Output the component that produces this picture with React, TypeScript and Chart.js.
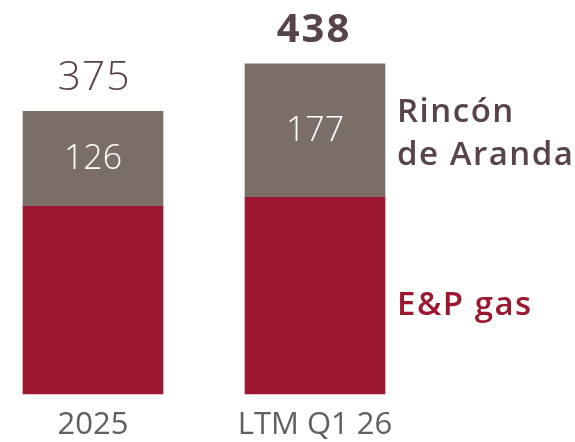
import React, { useEffect, useRef } from "react";
import { Chart, registerables } from "chart.js";

Chart.register(...registerables);

const categories = ["2025", "LTM Q1 26"];
const epGas = [249, 261];
const rincon = [126, 177];
const seriesNames = ["E&P gas", "Rincón de Aranda"];

const RED = "#9c1730";
const GRAY = "#7b6e67";
const DARK = "#574448";
const AXIS = "#606060";
const FONT = "'Open Sans', 'Noto Sans', sans-serif";

const labelsPlugin = {
  id: "labelsPlugin",
  afterDatasetsDraw(chart: any) {
    const ctx = chart.ctx;
    const redMeta = chart.getDatasetMeta(0);
    const grayMeta = chart.getDatasetMeta(1);
    ctx.save();
    ctx.textAlign = "center";
    ctx.textBaseline = "middle";
    grayMeta.data.forEach((bar: any, i: number) => {
      const top = bar.y;
      const base = bar.base;
      ctx.letterSpacing = "0px";
      ctx.fillStyle = "#ffffff";
      ctx.font = `300 34px ${FONT}`;
      ctx.fillText(String(rincon[i]), bar.x, (top + base) / 2 + 1);
      const total = epGas[i] + rincon[i];
      const last = i === grayMeta.data.length - 1;
      ctx.fillStyle = DARK;
      if (last) {
        ctx.letterSpacing = "2px";
        ctx.font = `bold 40px ${FONT}`;
        ctx.fillText(String(total), bar.x - 1, top - 33);
      } else {
        ctx.letterSpacing = "1px";
        ctx.font = `300 41px ${FONT}`;
        ctx.fillText(String(total), bar.x + 1, top - 33);
      }
    });
    const li = grayMeta.data.length - 1;
    const gBar: any = grayMeta.data[li];
    const rBar: any = redMeta.data[li];
    const x = gBar.x + gBar.width / 2 + 12;
    ctx.textAlign = "left";
    ctx.textBaseline = "alphabetic";
    ctx.letterSpacing = "1.5px";
    ctx.font = `600 33px ${FONT}`;
    ctx.fillStyle = DARK;
    const gc = (gBar.y + gBar.base) / 2;
    const words = seriesNames[1].split(" ");
    ctx.fillText(words[0], x, gc - 8.5);
    ctx.fillText(words.slice(1).join(" "), x, gc + 34.5);
    ctx.fillStyle = RED;
    const rc = (rBar.y + rBar.base) / 2;
    ctx.fillText(seriesNames[0], x, rc + 19.5);
    ctx.restore();
  },
};

export default function App() {
  const ref = useRef<HTMLCanvasElement>(null);
  useEffect(() => {
    if (!ref.current) return;
    const chart = new Chart(ref.current, {
      type: "bar",
      data: {
        labels: categories,
        datasets: [
          {
            label: seriesNames[0],
            data: epGas,
            backgroundColor: RED,
            barThickness: 140,
            clip: false as any,
          },
          {
            label: seriesNames[1],
            data: rincon,
            backgroundColor: GRAY,
            barThickness: 140,
            clip: false as any,
          },
        ],
      },
      options: {
        animation: false,
        responsive: false,
        devicePixelRatio: 1,
        layout: { padding: { left: 93, right: 260, top: 17, bottom: 0 } },
        plugins: {
          legend: { display: false },
          tooltip: { enabled: false },
          title: { display: false },
        },
        scales: {
          x: {
            stacked: true,
            offset: false,
            grid: { display: false, drawTicks: false, tickLength: 0 },
            border: { display: false },
            afterFit: (scale: any) => {
              scale.height = 48;
            },
            ticks: {
              color: AXIS,
              padding: 13,
              font: { family: FONT, size: 31, weight: 400 as any, lineHeight: 1.2 },
              maxRotation: 0,
              autoSkip: false,
            },
          },
          y: {
            stacked: true,
            display: false,
            min: 0,
            max: 500,
          },
        },
      },
      plugins: [labelsPlugin],
    });
    return () => chart.destroy();
  }, []);
  return (
    <div style={{ position: "absolute", left: 0, top: 0, width: 575, height: 442, background: "#fff" }}>
      <canvas ref={ref} width={575} height={442} style={{ width: 575, height: 442 }} />
    </div>
  );
}
